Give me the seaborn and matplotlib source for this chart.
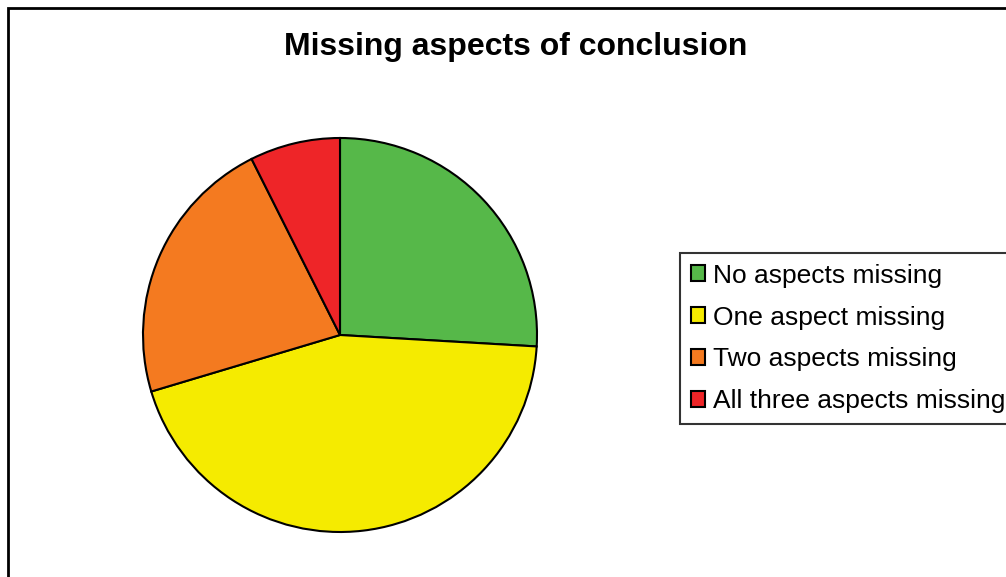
import matplotlib
matplotlib.use('Agg')
import matplotlib.pyplot as plt
from matplotlib.patches import Rectangle
import seaborn as sns

# data
categories = ['No aspects missing', 'One aspect missing',
              'Two aspects missing', 'All three aspects missing']
counts = [7, 12, 6, 2]
colors = ['#56B849', '#F5EB00', '#F47A20', '#EE2528']

sns.set_theme(style='white')
plt.rcParams['font.family'] = ['Liberation Sans', 'DejaVu Sans']
plt.rcParams['text.color'] = 'black'

W, H = 1006, 577
fig = plt.figure(figsize=(W / 100, H / 100), dpi=100)
fig.patch.set_facecolor('white')

# outer chart frame (runs off right and bottom edges)
fig.add_artist(Rectangle((8 / W, -0.1), 1.2, 1 - 8 / H + 0.1,
                         transform=fig.transFigure, fill=False,
                         edgecolor='black', linewidth=2))

# pie axes: centre (340, 335) px, radius 197 px
cx, cy, r = 340, 335, 197
ax = fig.add_axes([(cx - r) / W, (H - cy - r) / H, 2 * r / W, 2 * r / H])
wedges, _ = ax.pie(counts, colors=sns.color_palette(colors), startangle=90,
                   counterclock=False,
                   wedgeprops=dict(edgecolor='black', linewidth=1.5))
ax.set_xlim(-1.0, 1.0)
ax.set_ylim(-1.0, 1.0)
ax.set_aspect('equal')
ax.axis('off')

fig.text(516 / W, 1 - 47 / H, 'Missing aspects of conclusion',
         ha='center', va='center', fontsize=23, fontweight='bold',
         color='black')

leg = fig.legend(wedges, categories, loc='upper left',
                 bbox_to_anchor=(680 / W, 1 - 253 / H),
                 fontsize=19, frameon=True, fancybox=False,
                 handlelength=0.55, handleheight=0.55, handletextpad=0.3,
                 borderpad=0.4, labelspacing=0.68, borderaxespad=0)
leg.get_frame().set_edgecolor('black')
leg.get_frame().set_linewidth(1.5)
for t in leg.get_texts():
    t.set_color('black')

fig.savefig('out.png', dpi=100)
